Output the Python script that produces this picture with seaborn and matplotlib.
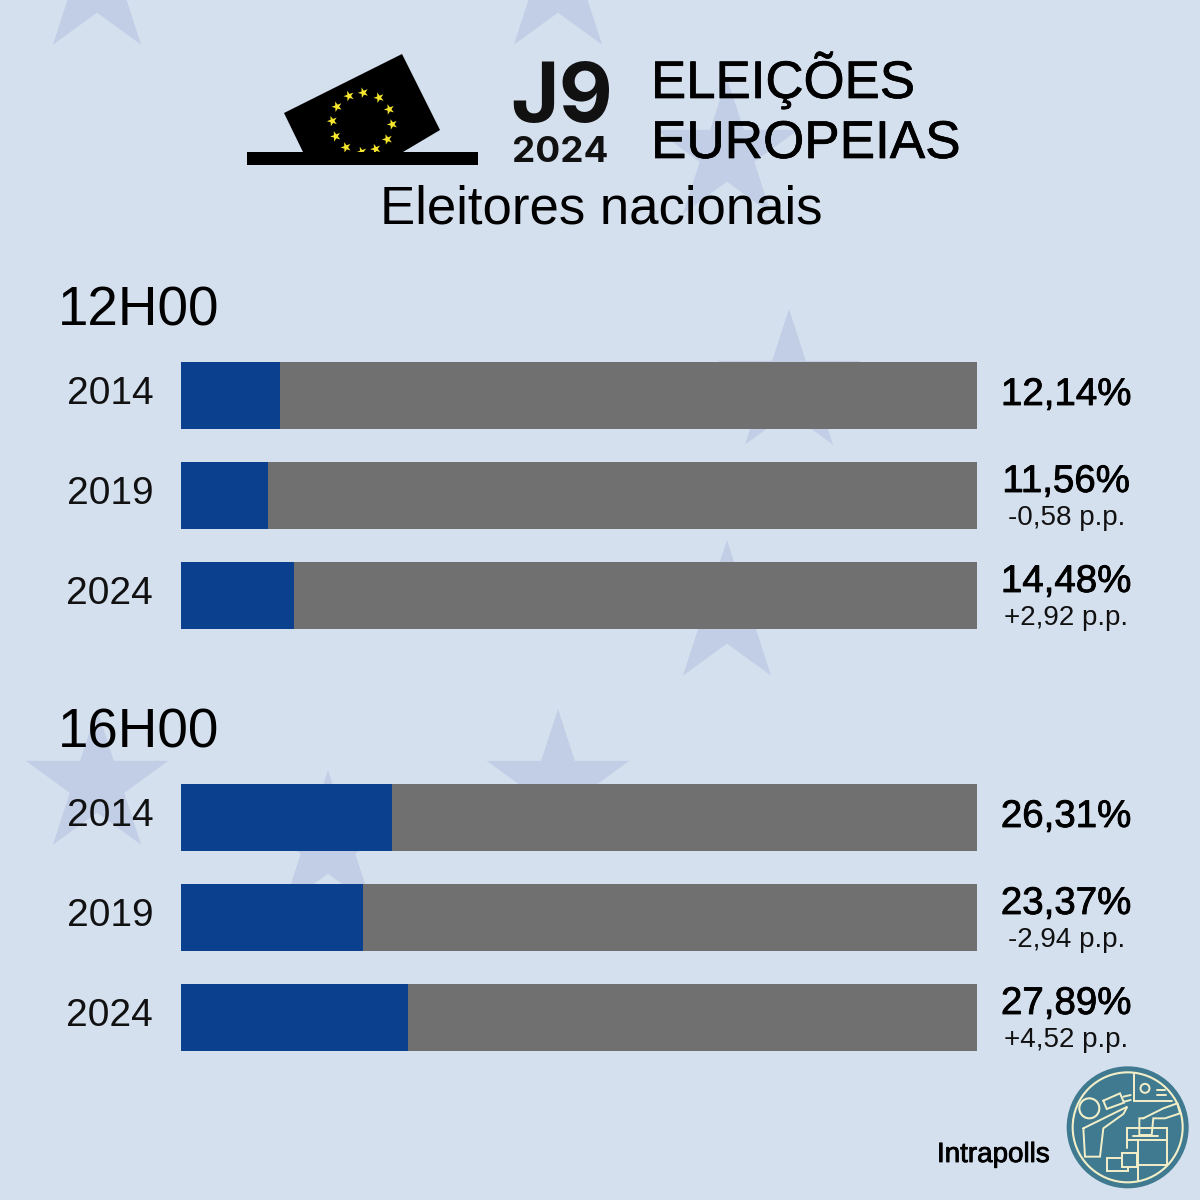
import numpy as np
import pandas as pd
import matplotlib
matplotlib.use("Agg")
import matplotlib.pyplot as plt
import matplotlib.patheffects as pe
from matplotlib.patches import Polygon, Circle, Rectangle
from matplotlib.transforms import ScaledTranslation
import seaborn as sns

# data: bar lengths, labels as printed
years = ["2014", "2019", "2024"]
bars_12h = [12.44, 10.93, 14.2]
bars_16h = [26.5, 22.86, 28.5]
labels_12h = ["12,14%", "11,56%", "14,48%"]
labels_16h = ["26,31%", "23,37%", "27,89%"]
change_12h = ["", "-0,58 p.p.", "+2,92 p.p."]
change_16h = ["", "-2,94 p.p.", "+4,52 p.p."]
full_scale = [100, 100, 100]

BG = "#D5E0EF"
STAR = "#C1CEE5"
BLUE = "#0B408E"
GREY = "#707070"
TEAL = "#3F7A90"
CREAM = "#F3EFC8"
W = 1200

sns.set_theme(style="white")
plt.rcParams["font.family"] = ["Liberation Sans", "DejaVu Sans"]

fig = plt.figure(figsize=(12, 12), dpi=100, facecolor=BG)


def pixel_axes(zorder):
    ax = fig.add_axes([0, 0, 1, 1], zorder=zorder)
    ax.set_xlim(0, W)
    ax.set_ylim(W, 0)
    ax.axis("off")
    return ax


def star_points(cx, cy, r, rot=0.0):
    angles = np.deg2rad(np.arange(10) * 36 - 90 + rot)
    radii = np.where(np.arange(10) % 2 == 0, r, r * 0.382)
    return np.column_stack([cx + radii * np.cos(angles), cy + radii * np.sin(angles)])


# background stars
bg = pixel_axes(0)
for cx, cy in [(97, -16), (558, -16), (727, 153), (789, 384), (727, 615),
               (558, 784), (97, 784), (328, 845)]:
    bg.add_patch(Polygon(star_points(cx, cy, 75), closed=True, color=STAR, lw=0))


# bars
def draw_panel(top_px, values, main_labels, change_labels):
    ax = fig.add_axes([181 / W, 1 - (top_px + 300) / W, 796 / W, 300 / W], zorder=1)
    ax.patch.set_alpha(0)
    df = pd.DataFrame({"year": years, "value": values, "full": full_scale})
    sns.barplot(data=df, x="full", y="year", color=GREY, width=0.67, saturation=1,
                edgecolor="none", linewidth=0, ax=ax)
    sns.barplot(data=df, x="value", y="year", color=BLUE, width=0.67, saturation=1,
                edgecolor="none", linewidth=0, ax=ax)
    ax.set_xlim(0, 100)
    ax.set_ylim(2.5, -0.5)
    ax.set_xlabel("")
    ax.set_ylabel("")
    ax.set_xticks([])
    ax.tick_params(axis="y", length=0, pad=20, labelsize=28, labelcolor="#111111")
    # year labels sit a little above the bar centre
    shift = ScaledTranslation(0, 5 / 100, fig.dpi_scale_trans)
    for lab in ax.get_yticklabels():
        lab.set_transform(lab.get_transform() + shift)
    sns.despine(ax=ax, left=True, bottom=True)
    for i, (main, change) in enumerate(zip(main_labels, change_labels)):
        dy = -0.005 if not change else -0.135
        ax.text(111.2, i + dy, main, ha="center", va="center", fontsize=27.7,
                color="black", clip_on=False,
                path_effects=[pe.withStroke(linewidth=0.6, foreground="black")])
        if change:
            ax.text(111.2, i + 0.225, change, ha="center", va="center", fontsize=20,
                    color="#111111", clip_on=False)


draw_panel(345.5, bars_12h, labels_12h, change_12h)
draw_panel(767.5, bars_16h, labels_16h, change_16h)

# header and text
fg = pixel_axes(3)
fg.text(601, 210, "Eleitores nacionais", ha="center", va="center", fontsize=38, color="black")
fg.text(651, 80, "ELEIÇÕES", ha="left", va="center", fontsize=38, color="black",
        path_effects=[pe.withStroke(linewidth=0.5, foreground="black")])
fg.text(651, 144, "EUROPEIAS", ha="left", va="center", fontsize=38.2, color="black",
        path_effects=[pe.withStroke(linewidth=0.5, foreground="black")])
fg.text(58, 312, "12H00", ha="left", va="center", fontsize=39.5, color="black")
fg.text(58, 734, "16H00", ha="left", va="center", fontsize=39.5, color="black")
fg.text(937, 1155, "Intrapolls", ha="left", va="center", fontsize=20, color="black",
        path_effects=[pe.withStroke(linewidth=0.6, foreground="black")])

# J9 mark
fg.text(562, 100, "J9", ha="center", va="center", fontsize=60, family="Inter",
        weight="bold", color="#111111")
fg.text(560, 152, "2024", ha="center", va="center", fontsize=26.5, family="Inter",
        weight="bold", color="#111111")

# ballot
fg.add_patch(Polygon([(402, 54), (440, 130), (403, 152), (303, 152), (284, 113)],
                     closed=True, color="black", lw=0))
ballot_stars = [(400, 188), (447, 203), (478, 238), (487, 283), (472, 328), (437, 357),
                (395, 366), (348, 352), (317, 319), (307, 273), (321, 230), (357, 198)]
for sx, sy in ballot_stars:
    fg.add_patch(Polygon(star_points(230 + sx / 3, 30 + sy / 3, 5.5, rot=-20),
                         closed=True, color="#F7E62E", lw=0))
fg.add_patch(Rectangle((247, 152), 231, 13, color="black", lw=0))


# logo
def z(x, y):
    return (1040 + x / 3, 1050 + y / 3)


fg.add_patch(Circle(z(263, 232), 61, color=TEAL, lw=0))
fg.add_patch(Circle(z(263, 232), 55, fill=False, ec=CREAM, lw=1.5))
fg.add_patch(Circle(z(148, 175), 10, fill=False, ec=CREAM, lw=1.5))
logo_lines = [
    [(130, 235), (262, 170), (250, 192), (190, 235), (180, 320), (135, 320), (130, 235)],
    [(190, 152), (240, 130), (252, 158), (200, 177), (190, 152)],
    [(250, 140), (272, 135)],
    [(252, 155), (272, 150)],
    [(283, 72), (283, 152), (395, 152)],
    [(350, 120), (375, 120)],
    [(350, 135), (378, 135)],
    [(310, 205), (370, 175), (412, 160), (420, 190), (375, 205), (340, 205), (335, 255), (298, 255), (298, 205), (310, 205)],
    [(280, 258), (355, 258)],
    [(260, 295), (260, 235), (380, 235), (380, 345)],
    [(260, 270), (380, 270)],
    [(295, 270), (295, 392)],
    [(295, 345), (382, 345)],
    [(200, 325), (245, 325)],
    [(200, 325), (200, 363), (265, 363), (265, 350)],
    [(245, 310), (290, 310), (290, 350), (245, 350), (245, 310)],
]
for pts in logo_lines:
    xy = np.array([z(*p) for p in pts])
    fg.plot(xy[:, 0], xy[:, 1], color=CREAM, lw=1.4, solid_joinstyle="miter")
fg.add_patch(Circle(z(315, 115), 4.5, fill=False, ec=CREAM, lw=1.4))

fig.savefig("out.png", dpi=100, facecolor=BG)
